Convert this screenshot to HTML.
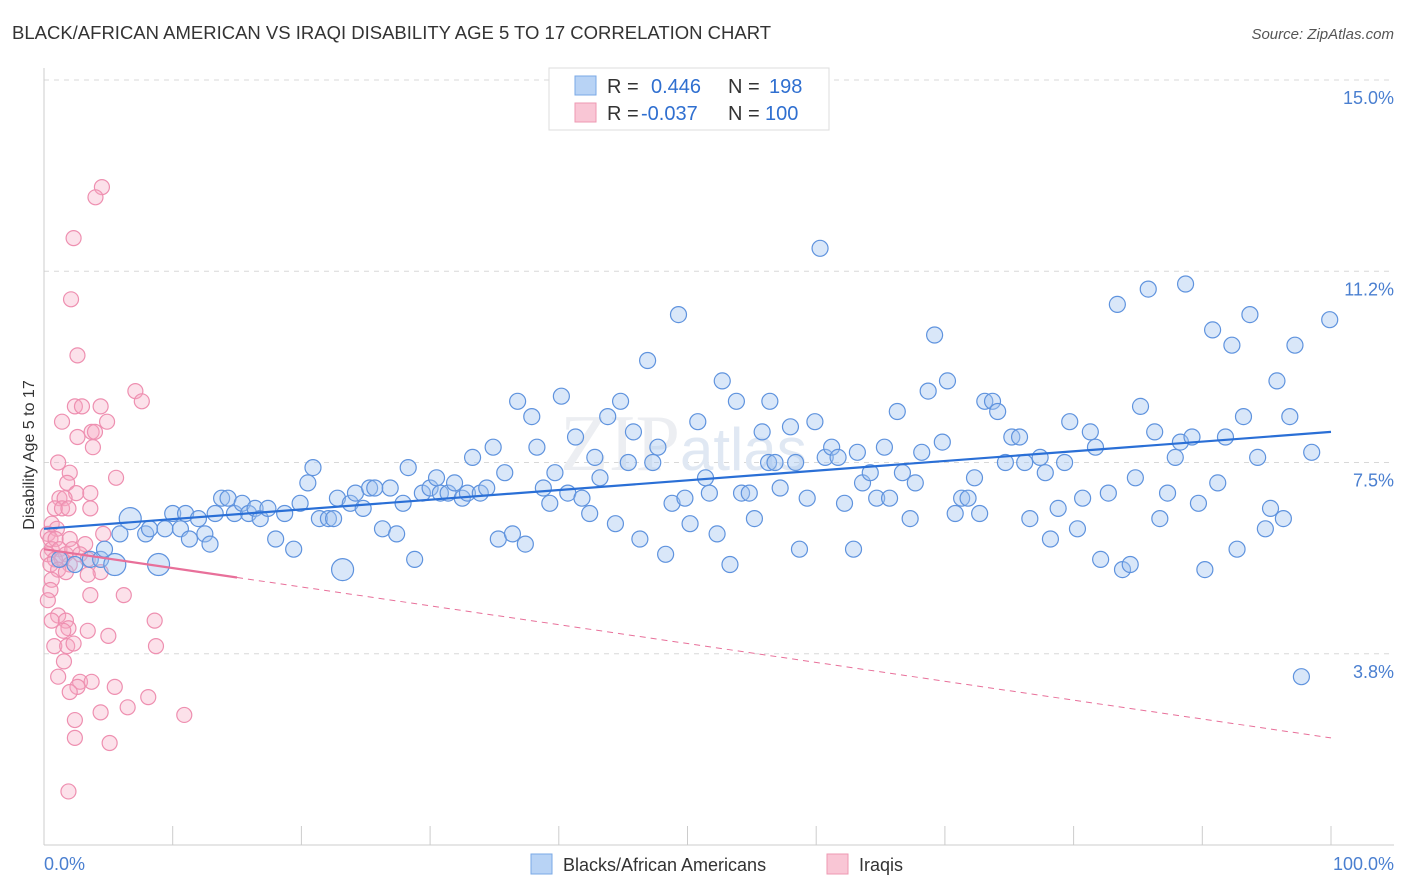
<!DOCTYPE html>
<html><head><meta charset="utf-8">
<style>
body{margin:0;background:#fff;font-family:"Liberation Sans",sans-serif;}
svg{display:block}
</style></head>
<body>
<svg id="chart" width="1406" height="892" xmlns="http://www.w3.org/2000/svg">
<text x="12" y="39" font-size="18.5" fill="#333">BLACK/AFRICAN AMERICAN VS IRAQI DISABILITY AGE 5 TO 17 CORRELATION CHART</text>
<text x="1394" y="39" font-size="15" fill="#555" font-style="italic" text-anchor="end">Source: ZipAtlas.com</text>
<text x="34" y="455" font-size="16" fill="#333" text-anchor="middle" transform="rotate(-90 34 455)">Disability Age 5 to 17</text>
<g id="grid"></g>
<text x="560" y="470" font-size="80" fill="#eceef2" font-family="Liberation Serif">ZIP<tspan font-size="60" font-family="Liberation Sans" fill="#e0e8f3">atlas</tspan></text>
<g id="marks"></g>
<g>
<rect x="549" y="68" width="280" height="62" fill="#fff" stroke="#ddd"/>
<rect x="575" y="76" width="21" height="19" fill="#b8d3f5" stroke="#7aa8e6"/>
<rect x="575" y="103" width="21" height="19" fill="#f9c6d5" stroke="#ee98b2"/>
<text x="607" y="93" font-size="20" fill="#333">R = </text><text x="651" y="93" font-size="20" fill="#2f6fd0">0.446</text>
<text x="728" y="93" font-size="20" fill="#333">N = </text><text x="769" y="93" font-size="20" fill="#2f6fd0">198</text>
<text x="607" y="120" font-size="20" fill="#333">R = </text><text x="641" y="120" font-size="20" fill="#2f6fd0">-0.037</text>
<text x="728" y="120" font-size="20" fill="#333">N = </text><text x="765" y="120" font-size="20" fill="#2f6fd0">100</text>
</g>
<g>
<rect x="531" y="854" width="21" height="20" fill="#b8d3f5" stroke="#7aa8e6"/>
<text x="563" y="871" font-size="18" fill="#333">Blacks/African Americans</text>
<rect x="827" y="854" width="21" height="20" fill="#f9c6d5" stroke="#ee98b2"/>
<text x="859" y="871" font-size="18" fill="#333">Iraqis</text>
</g>
<text x="44" y="870" font-size="18" fill="#4a7fd0">0.0%</text>
<text x="1394" y="870" font-size="18" fill="#4a7fd0" text-anchor="end">100.0%</text>
</svg>
<script>
const yTicks=[15,11.25,7.5,3.75];
const yTickLabels=["15.0%","11.2%","7.5%","3.8%"];
const xTicks=[0,10,20,30,40,50,60,70,80,90,100];
const blueX=[1.2,2.4,3.6,4.4,5.5,4.7,5.9,6.7,7.9,8.2,8.9,9.4,10,10.6,11,11.3,12,12.5,12.9,13.3,13.8,14.3,14.8,15.4,15.9,16.4,16.8,17.4,18,18.7,19.4,19.9,20.5,20.9,21.4,22.1,22.5,22.8,23.2,23.8,24.2,24.8,25.3,25.7,26.3,26.9,27.4,27.9,28.3,28.8,29.4,30,30.5,30.8,31.4,31.9,32.5,32.9,33.3,33.9,34.4,34.9,35.3,35.8,36.4,36.8,37.4,37.9,38.3,38.8,39.3,39.7,40.2,40.7,41.3,41.8,42.4,42.8,43.2,43.8,44.4,44.8,45.4,45.8,46.3,46.9,47.3,47.7,48.3,48.8,49.3,49.8,50.2,50.8,51.4,51.7,52.3,52.7,53.3,53.8,54.2,54.8,55.2,55.8,56.3,56.4,56.8,57.2,58,58.4,58.7,59.3,59.9,60.3,60.7,61.2,61.7,62.2,62.9,63.2,63.6,64.2,64.7,65.3,65.7,66.3,66.7,67.3,67.7,68.2,68.7,69.2,69.8,70.2,70.8,71.3,71.8,72.3,72.7,73.1,73.7,74.1,74.7,75.2,75.8,76.2,76.6,77.4,77.8,78.2,78.8,79.3,79.7,80.3,80.7,81.3,81.7,82.1,82.7,83.4,83.8,84.4,84.8,85.2,85.8,86.3,86.7,87.3,87.9,88.3,88.7,89.2,89.7,90.2,90.8,91.2,91.8,92.3,92.7,93.2,93.7,94.3,94.9,95.3,95.8,96.3,96.8,97.2,97.7,98.5,99.9];
const blueY=[5.6,5.5,5.6,5.6,5.5,5.8,6.1,6.4,6.1,6.2,5.5,6.2,6.5,6.2,6.5,6.0,6.4,6.1,5.9,6.5,6.8,6.8,6.5,6.7,6.5,6.6,6.4,6.6,6.0,6.5,5.8,6.7,7.1,7.4,6.4,6.4,6.4,6.8,5.4,6.7,6.9,6.6,7.0,7.0,6.2,7.0,6.1,6.7,7.4,5.6,6.9,7.0,7.2,6.9,6.9,7.1,6.8,6.9,7.6,6.9,7.0,7.8,6.0,7.3,6.1,8.7,5.9,8.4,7.8,7.0,6.7,7.3,8.8,6.9,8.0,6.8,6.5,7.6,7.2,8.4,6.3,8.7,7.5,8.1,6.0,9.5,7.5,7.8,5.7,6.7,10.4,6.8,6.3,8.3,7.2,6.9,6.1,9.1,5.5,8.7,6.9,6.9,6.4,8.1,7.5,8.7,7.5,7.0,8.2,7.5,5.8,6.8,8.3,11.7,7.6,7.8,7.6,6.7,5.8,7.7,7.1,7.3,6.8,7.8,6.8,8.5,7.3,6.4,7.1,7.7,8.9,10.0,7.9,9.1,6.5,6.8,6.8,7.2,6.5,8.7,8.7,8.5,7.5,8.0,8.0,7.5,6.4,7.6,7.3,6.0,6.6,7.5,8.3,6.2,6.8,8.1,7.8,5.6,6.9,10.6,5.4,5.5,7.2,8.6,10.9,8.1,6.4,6.9,7.6,7.9,11.0,8.0,6.7,5.4,10.1,7.1,8.0,9.8,5.8,8.4,10.4,7.6,6.2,6.6,9.1,6.4,8.4,9.8,3.3,7.7,10.3];
const pinkX=[4.5,4.0,2.3,2.1,2.6,7.1,7.6,2.4,2.95,4.4,1.4,4.9,2.6,3.7,3.96,3.8,1.1,2.0,5.6,1.8,2.5,3.6,1.2,1.6,0.85,1.4,1.9,3.6,0.6,1.0,0.3,4.6,0.5,0.9,2.0,3.2,0.6,1.2,1.7,2.2,2.8,0.3,0.85,1.4,2.0,3.4,0.5,1.1,1.7,4.4,0.6,3.4,0.5,0.3,3.6,6.2,1.1,0.6,1.7,1.9,1.5,3.4,8.6,5.0,0.8,1.8,2.3,8.7,1.55,1.1,2.8,3.7,2.6,5.5,2.0,8.1,4.4,6.5,10.9,2.4,2.4,5.1,1.9];
const pinkY=[12.9,12.7,11.9,10.7,9.6,8.9,8.7,8.6,8.6,8.6,8.3,8.3,8.0,8.1,8.1,7.8,7.5,7.3,7.2,7.1,6.9,6.9,6.8,6.8,6.6,6.6,6.6,6.6,6.3,6.2,6.1,6.1,6.0,6.0,6.0,5.9,5.8,5.8,5.7,5.8,5.7,5.7,5.6,5.6,5.5,5.6,5.5,5.4,5.35,5.35,5.2,5.3,5.0,4.8,4.9,4.9,4.5,4.4,4.4,4.25,4.2,4.2,4.4,4.1,3.9,3.9,3.95,3.9,3.6,3.3,3.2,3.2,3.1,3.1,3.0,2.9,2.6,2.7,2.55,2.45,2.1,2.0,1.05];
const bigBlue=[4,10,7,38];
const blueTrend=[6.2,8.1];
const pinkTrend=[5.8,2.1];
const pinkSolidEnd=15;

const X0=44,X1=1331,YB=845,PXY=51;
const sx=v=>X0+(X1-X0)*v/100;
const sy=v=>YB-v*PXY;
const NS="http://www.w3.org/2000/svg";
function mk(t,a,p){const e=document.createElementNS(NS,t);for(const k in a)e.setAttribute(k,a[k]);p.appendChild(e);return e;}
const grid=document.getElementById('grid'),marks=document.getElementById('marks');
yTicks.forEach((t,i)=>{
 const l=mk('line',{x1:X0,x2:1394,y1:sy(t),y2:sy(t),stroke:'#d8d8d8','stroke-dasharray':'5,5'},grid);
 
 
 const tx=mk('text',{x:1394,y:sy(t)+24,'font-size':18,fill:'#4a7fd0','text-anchor':'end'},grid);
 tx.textContent=yTickLabels[i];
 
 
});
const ax=mk('line',{x1:X0,x2:1394,y1:YB,y2:YB,stroke:'#ccc'},grid);


const ay=mk('line',{x1:X0,x2:X0,y1:68,y2:YB,stroke:'#ccc'},grid);


xTicks.forEach(t=>{
 const l=mk('line',{x1:sx(t),x2:sx(t),y1:YB,y2:YB-19,stroke:'#ccc'},grid);
 
 
});
pinkX.forEach((v,i)=>{
 const c=mk('circle',{cx:sx(v),cy:sy(pinkY[i]),r:7.5,fill:'rgba(245,170,195,0.35)',stroke:'#ee8fb0','stroke-width':1.2},marks);
 
 
});
blueX.forEach((v,i)=>{
 const r=bigBlue.includes(i)?11:8;
 const c=mk('circle',{cx:sx(v),cy:sy(blueY[i]),r:r,fill:'rgba(160,195,240,0.4)',stroke:'#5f93de','stroke-width':1.2},marks);
 
 
});
const bt=mk('line',{x1:sx(0),y1:sy(blueTrend[0]),x2:sx(100),y2:sy(blueTrend[1]),stroke:'#2a6fd6','stroke-width':2.2},marks);


const pAt=v=>pinkTrend[0]+(pinkTrend[1]-pinkTrend[0])*v/100;
const pt=mk('line',{x1:sx(0),y1:sy(pinkTrend[0]),x2:sx(pinkSolidEnd),y2:sy(pAt(pinkSolidEnd)),stroke:'#e8709a','stroke-width':2.2},marks);


const pd=mk('line',{x1:sx(pinkSolidEnd),y1:sy(pAt(pinkSolidEnd)),x2:sx(100),y2:sy(pinkTrend[1]),stroke:'#e8709a','stroke-width':1,'stroke-dasharray':'6,5'},marks);


</script>
</body></html>
